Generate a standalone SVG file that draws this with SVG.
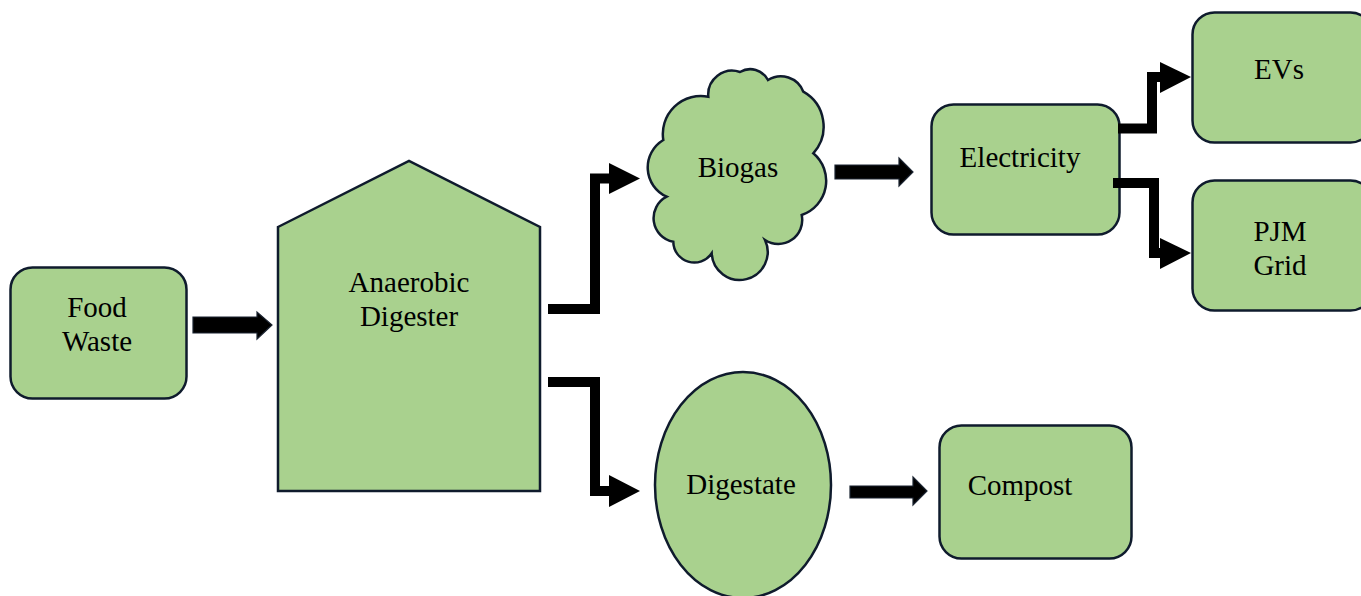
<svg xmlns="http://www.w3.org/2000/svg" width="1361" height="596" viewBox="0 0 1361 596">
<style>
.n{fill:#a9d18e;stroke:#0f1b2d;stroke-width:2.5}
.t{font-family:"Liberation Serif","Times New Roman",serif;font-size:29px;fill:#000;text-anchor:middle}
.blk{fill:#000;stroke:#1a2330;stroke-width:1.2}
.el{fill:none;stroke:#000;stroke-width:10;stroke-linejoin:miter}
.hd{fill:#000}
</style>
<rect width="1361" height="596" fill="#fff"/>
<g id="food-waste">
<rect class="n" x="10.5" y="267.5" width="176" height="131" rx="22"/>
<text class="t" x="97" y="317">Food</text>
<text class="t" x="97" y="351">Waste</text>
</g>
<g id="anaerobic-digester">
<polygon class="n" points="278,227 409,161 540,227 540,491 278,491"/>
<text class="t" x="409" y="292">Anaerobic</text>
<text class="t" x="409" y="326">Digester</text>
</g>
<g id="biogas">
<path class="n" d="M666.7,196.7 A32,32 0 0 1 663.3,140 A38,38 0 0 1 708.3,96.7 A24,24 0 0 1 740,72 A20,20 0 0 1 768,80 A24,24 0 0 1 803.3,91.7 A40,40 0 0 1 813.3,153.3 A36,36 0 0 1 801.7,215 A24,24 0 0 1 765,240 A28,28 0 1 1 711.7,253.3 A21,21 0 0 1 673.3,241.7 A24,24 0 0 1 666.7,196.7 Z"/>
<text class="t" x="738" y="177">Biogas</text>
</g>
<g id="digestate">
<ellipse class="n" cx="743" cy="485" rx="88" ry="113"/>
<text class="t" x="741" y="494">Digestate</text>
</g>
<g id="electricity">
<rect class="n" x="931.5" y="104.5" width="188" height="130" rx="22"/>
<text class="t" x="1020" y="167">Electricity</text>
</g>
<g id="compost">
<rect class="n" x="939.5" y="425.5" width="192" height="133" rx="22"/>
<text class="t" x="1020" y="495">Compost</text>
</g>
<g id="evs">
<rect class="n" x="1192.5" y="12.5" width="180" height="130" rx="22"/>
<text class="t" x="1279" y="79">EVs</text>
</g>
<g id="pjm-grid">
<rect class="n" x="1192.5" y="180.5" width="180" height="130" rx="22"/>
<text class="t" x="1280" y="241">PJM</text>
<text class="t" x="1280" y="275">Grid</text>
</g>
<g id="connectors">
<polygon class="blk" points="193,317 257,317 257,312 272,325 257,339 257,333 193,333"/>
<polygon class="blk" points="835,165 899,165 899,158 913,172 899,186 899,179 835,179"/>
<polygon class="blk" points="850,486 913,486 913,477 927,491 913,505 913,498 850,498"/>
<path class="el" d="M548,309 H595 V178.5 H612"/>
<polygon class="hd" points="609,163 640,178.5 609,194"/>
<path class="el" d="M548,382 H595 V491 H612"/>
<polygon class="hd" points="609,475 640,491 609,507"/>
<path class="el" d="M1118,128.5 H1152 V77 H1163"/>
<polygon class="hd" points="1160,62 1191,77 1160,93"/>
<path class="el" d="M1113,183 H1154 V253 H1163"/>
<polygon class="hd" points="1160,238 1191,253 1160,269"/>
</g>
</svg>
